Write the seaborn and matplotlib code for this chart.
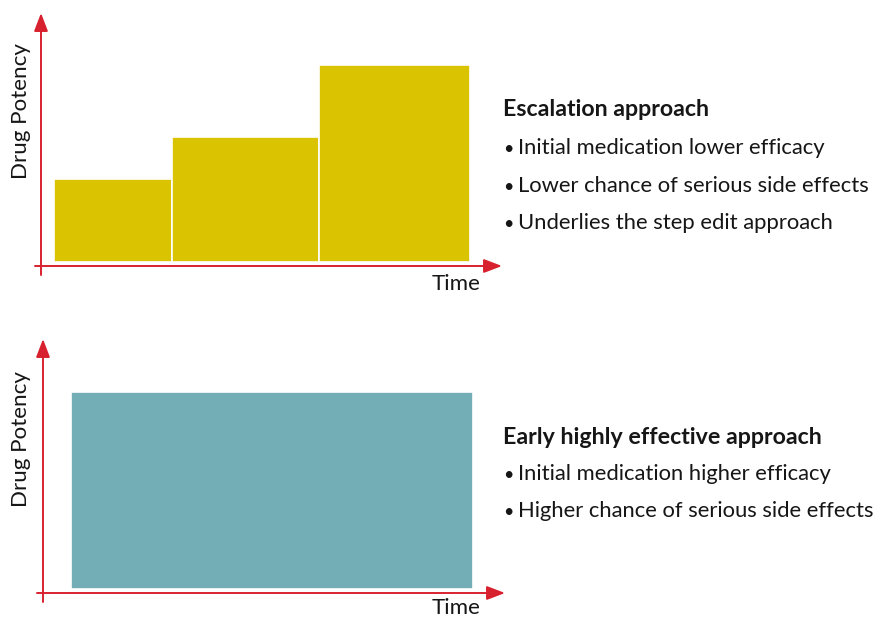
import matplotlib
matplotlib.use("Agg")
import matplotlib.pyplot as plt
import seaborn as sns
import pandas as pd

# Escalation approach: three treatment steps of increasing potency
step_edges = [0.0, 1.0, 2.24, 3.51]
step_potency = [4.2, 6.35, 10.0]

# Early highly effective approach: one high-potency treatment throughout
early_edges = [0.0, 3.39]
early_potency = [10.0]

axis_label_y = "Drug Potency"
axis_label_x = "Time"

escalation_title = "Escalation approach"
escalation_points = [
    "Initial medication lower efficacy",
    "Lower chance of serious side effects",
    "Underlies the step edit approach",
]
early_title = "Early highly effective approach"
early_points = [
    "Initial medication higher efficacy",
    "Higher chance of serious side effects",
]

YELLOW = "#DAC300"
TEAL = "#73AEB6"
RED = "#D8212E"
TEXT = "#161616"

sns.set_theme(style="white")
plt.rcParams["font.family"] = ["Lato", "DejaVu Sans"]

W, H = 879, 618
fig = plt.figure(figsize=(W / 100, H / 100), dpi=100)

PX_PER_X = 118.5   # pixels per time unit
PX_PER_Y = 19.7    # pixels per potency unit


def panel(left, right, bottom, top, x0_px, y0_px, edges, heights, color):
    """Axes spanning the given pixel box; data origin at (x0_px, y0_px)."""
    ax = fig.add_axes([left / W, 1 - bottom / H, (right - left) / W, (bottom - top) / H])
    mids = [(a + b) / 2 for a, b in zip(edges[:-1], edges[1:])]
    df = pd.DataFrame({"time": mids, "potency": heights})
    sns.histplot(data=df, x="time", weights="potency", bins=edges, stat="count",
                 color=color, alpha=1, edgecolor="white", linewidth=1.2, ax=ax)
    ax.set_xlim(-(x0_px - left) / PX_PER_X, (right - x0_px) / PX_PER_X)
    ax.set_ylim(-(bottom - y0_px) / PX_PER_Y, (y0_px - top) / PX_PER_Y)
    for s in ax.spines.values():
        s.set_visible(False)
    ax.set_xticks([])
    ax.set_yticks([])
    ax.set_xlabel("")
    ax.set_ylabel("")
    ax.patch.set_alpha(0)

    # axis arrows in red
    style = dict(arrowstyle="-|>,head_length=1.1,head_width=0.42", color=RED,
                 lw=1.4, mutation_scale=10, shrinkA=0, shrinkB=0)
    w = right - left
    h = bottom - top
    ax.annotate("", xy=(1, 0), xytext=(-6 / w, 0), xycoords="axes fraction",
                arrowprops=style, annotation_clip=False)
    ax.annotate("", xy=(0, 1), xytext=(0, -9 / h), xycoords="axes fraction",
                arrowprops=style, annotation_clip=False)
    return ax


panel(41, 502, 266, 13, 54, 262, step_edges, step_potency, YELLOW)
panel(43, 505, 593, 339, 71, 589, early_edges, early_potency, TEAL)


def ftext(x, y, s, **kw):
    fig.text(x / W, 1 - y / H, s, color=TEXT, **kw)


FS = 15.85
FS_BOLD = 16.7
ftext(21, 111, axis_label_y, rotation=90, ha="center", va="center", fontsize=16.1)
ftext(21, 439, axis_label_y, rotation=90, ha="center", va="center", fontsize=16.1)
ftext(481, 284, axis_label_x, ha="right", va="center", fontsize=16.1)
ftext(481, 607.5, axis_label_x, ha="right", va="center", fontsize=16.1)


def bullet_list(y0, step, items):
    for i, p in enumerate(items):
        y = y0 + step * i
        ftext(508.5, y + 1, "\u2022", ha="center", va="center", fontsize=13)
        ftext(518, y, p, ha="left", va="center", fontsize=FS)


ftext(503, 110, escalation_title, ha="left", va="center", fontsize=FS_BOLD, fontweight="bold")
bullet_list(148, 37.5, escalation_points)

ftext(503, 437, early_title, ha="left", va="center", fontsize=FS_BOLD, fontweight="bold")
bullet_list(474, 37, early_points)

fig.savefig("out.png", dpi=100, facecolor="white")
